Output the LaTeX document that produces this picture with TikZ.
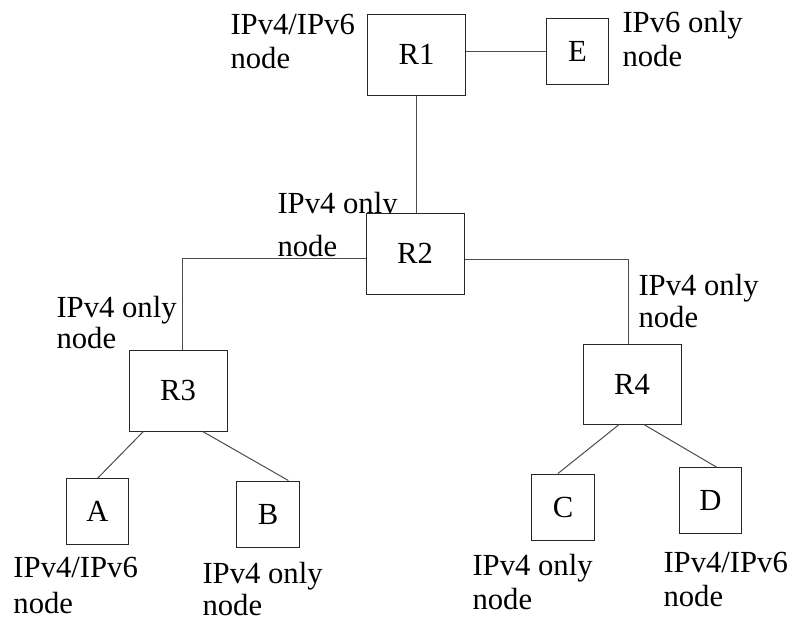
\documentclass[tikz,border=0pt]{standalone}
\usepackage{fontspec}
\setmainfont{Liberation Serif}
\usetikzlibrary{calc}

\begin{document}
\begin{tikzpicture}[x=0.75pt,y=-0.75pt,line width=0.75pt,
    font=\fontsize{23}{25.5}\selectfont,
    router/.style={draw=black!85, fill=white, inner sep=0pt, minimum width=73.5pt, minimum height=60.75pt},
    host/.style={draw=black!85, fill=white, inner sep=0pt, minimum width=47pt, minimum height=49pt},
    lbl/.style={align=left, anchor=north west, inner sep=0pt, text depth=0pt},
    link/.style={draw=black!70}]
    \useasboundingbox[fill=white] (0,0) rectangle (796,622);
    % labels first, so the boxes cover them
    \node [lbl] (lblR1) at (230,14) {IPv4/IPv6\\node};
    \node [lbl] (lblE)  at (622,11) {IPv6 only\\node};
    \node [lbl] (lblR2) at (277,192) {IPv4 only\\[6.5pt]node};
    \node [lbl] (lblR3) at (56,296) {IPv4 only\\[-2.25pt]node};
    \node [lbl] (lblR4) at (638,274) {IPv4 only\\[-1.5pt]node};
    \node [lbl] (lblA)  at (13,557) {IPv4/IPv6\\[1.5pt]node};
    \node [lbl] (lblB)  at (202,562) {IPv4 only\\[-2pt]node};
    \node [lbl] (lblC)  at (472,554) {IPv4 only\\node};
    \node [lbl] (lblD)  at (663,552) {IPv4/IPv6\\node};
    % boxes
    \node [router] (R1) at (416.5,54.5) {R1};
    \node [host, minimum height=49.5pt] (E) at (577.5,51) {E};
    \node [router] (R2) at (415,253.5) {R2};
    \node [router] (R3) at (178,390.5) {R3};
    \node [router, minimum height=60pt] (R4) at (632,384) {R4};
    \node [host] (A) at (97.5,511.5) {A};
    \node [host, minimum height=49.5pt] (B) at (268,514) {B};
    \node [host, minimum height=49.5pt] (C) at (563,507) {C};
    \node [host] (D) at (710.5,500.5) {D};
    % links
    \draw [link] (R1.east |- E.west) -- (E.west);
    \draw [link] (R1.south) -- (R1.south |- R2.north);
    \draw [link] ([yshift=-4pt]R2.west) -| ([xshift=3pt]R3.north);
    \draw [link] ([yshift=-4.5pt]R2.east) -| ([xshift=-3pt]R4.north);
    \draw [link] ($(R3.south west)!.15!(R3.south east)$) -- (A.north);
    \draw [link] ($(R3.south west)!.75!(R3.south east)$) -- ($(B.north west)!.82!(B.north east)$);
    \draw [link] ($(R4.south west)!.37!(R4.south east)$) -- ($(C.north west)!.42!(C.north east)$);
    \draw [link] ($(R4.south west)!.62!(R4.south east)$) -- ($(D.north west)!.6!(D.north east)$);
\end{tikzpicture}
\end{document}
